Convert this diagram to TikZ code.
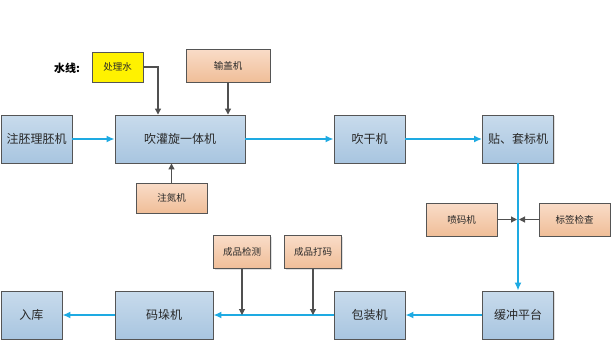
\documentclass[tikz,border=0pt]{standalone}
\usepackage{fontspec}
\setmainfont{Noto Sans CJK SC}
\usepackage{tikz}
\usetikzlibrary{arrows.meta,positioning,calc,shadows}
\definecolor{BoxTop}{RGB}{200,219,236}
\definecolor{BoxBot}{RGB}{168,197,224}
\definecolor{AuxTop}{RGB}{249,220,200}
\definecolor{AuxBot}{RGB}{240,190,152}
\definecolor{FlowBlue}{RGB}{30,170,226}
\definecolor{Rim}{RGB}{85,85,85}
\definecolor{FeedGray}{RGB}{80,80,80}
\definecolor{Ink}{RGB}{40,40,40}

\begin{document}
\begin{tikzpicture}[
  x=1pt,y=-1pt,
  box/.style={draw=Rim,line width=0.9pt,align=center,inner sep=2pt,text=Ink,
    drop shadow={opacity=0.25,shadow xshift=1.2pt,shadow yshift=-1.2pt}},
  stage/.style={box,top color=BoxTop,bottom color=BoxBot,minimum height=48pt,
    font=\fontsize{12}{14}\selectfont},
  aux/.style={box,top color=AuxTop,bottom color=AuxBot,minimum height=33pt,
    font=\fontsize{9.5}{11}\selectfont},
  flow/.style={draw=FlowBlue,line width=1.5pt,-{Latex[length=8pt,width=7pt]}},
  feed/.style={draw=FeedGray,line width=1.1pt,-{Triangle[length=6pt,width=6pt]}}
]
\useasboundingbox (0,0) rectangle (613,343);
\node[stage,minimum width=71pt] (preform) at (36.5,139) {注胚理胚机};
\node[stage,minimum width=130pt] (filler) at (180,139) {吹灌旋一体机};
\node[stage,minimum width=71pt] (dryer) at (369.5,139) {吹干机};
\node[stage,minimum width=71pt] (labeler) at (518,139) {贴、套标机};
\node[box,fill=yellow,minimum width=51pt,minimum height=30pt,
  font=\fontsize{9.5}{11}\selectfont] (water) at (117.5,67) {处理水};
\node[font=\fontsize{11}{13}\selectfont\bfseries] (waterline) at (67,68) {水线:};
\node[aux,minimum width=84pt] (capper) at (228,65.5) {输盖机};
\node[aux,minimum width=71pt,minimum height=30pt] (nitrogen) at (171.5,198) {注氮机};
\node[aux,minimum width=71pt] (coder) at (461.5,219.5) {喷码机};
\node[aux,minimum width=71pt] (labelcheck) at (574.5,219.5) {标签检查};
\node[stage,minimum width=71pt] (buffer) at (518,315) {缓冲平台};
\node[stage,minimum width=71pt] (packer) at (369.5,315) {包装机};
\node[stage,minimum width=98pt] (pallet) at (164,315) {码垛机};
\node[stage,minimum width=61pt] (store) at (31.5,315) {入库};
\node[aux,minimum width=57pt] (inspect) at (242,252) {成品检测};
\node[aux,minimum width=57pt] (mark) at (313,252) {成品打码};
\coordinate (join) at (labeler.south |- coder.east);
\draw[flow] (preform)--(filler);
\draw[flow] (filler)--(dryer);
\draw[flow] (dryer)--(labeler);
\draw[flow] (labeler)--(buffer);
\draw[flow] (buffer)--(packer);
\draw[flow] (packer)--(pallet);
\draw[flow] (pallet)--(store);
\draw[feed] (water.east) -| ($(filler.north)+(-22,0)$);
\draw[feed] (capper.south)--(capper.south |- filler.north);
\draw[feed] (nitrogen.north)--(nitrogen.north |- filler.south);
\draw[feed] (coder.east)--([xshift=-1]join);
\draw[feed] (labelcheck.west)--([xshift=1]join);
\draw[feed] (inspect.south)--(inspect.south |- packer.west);
\draw[feed] (mark.south)--(mark.south |- packer.west);
\end{tikzpicture}
\end{document}
